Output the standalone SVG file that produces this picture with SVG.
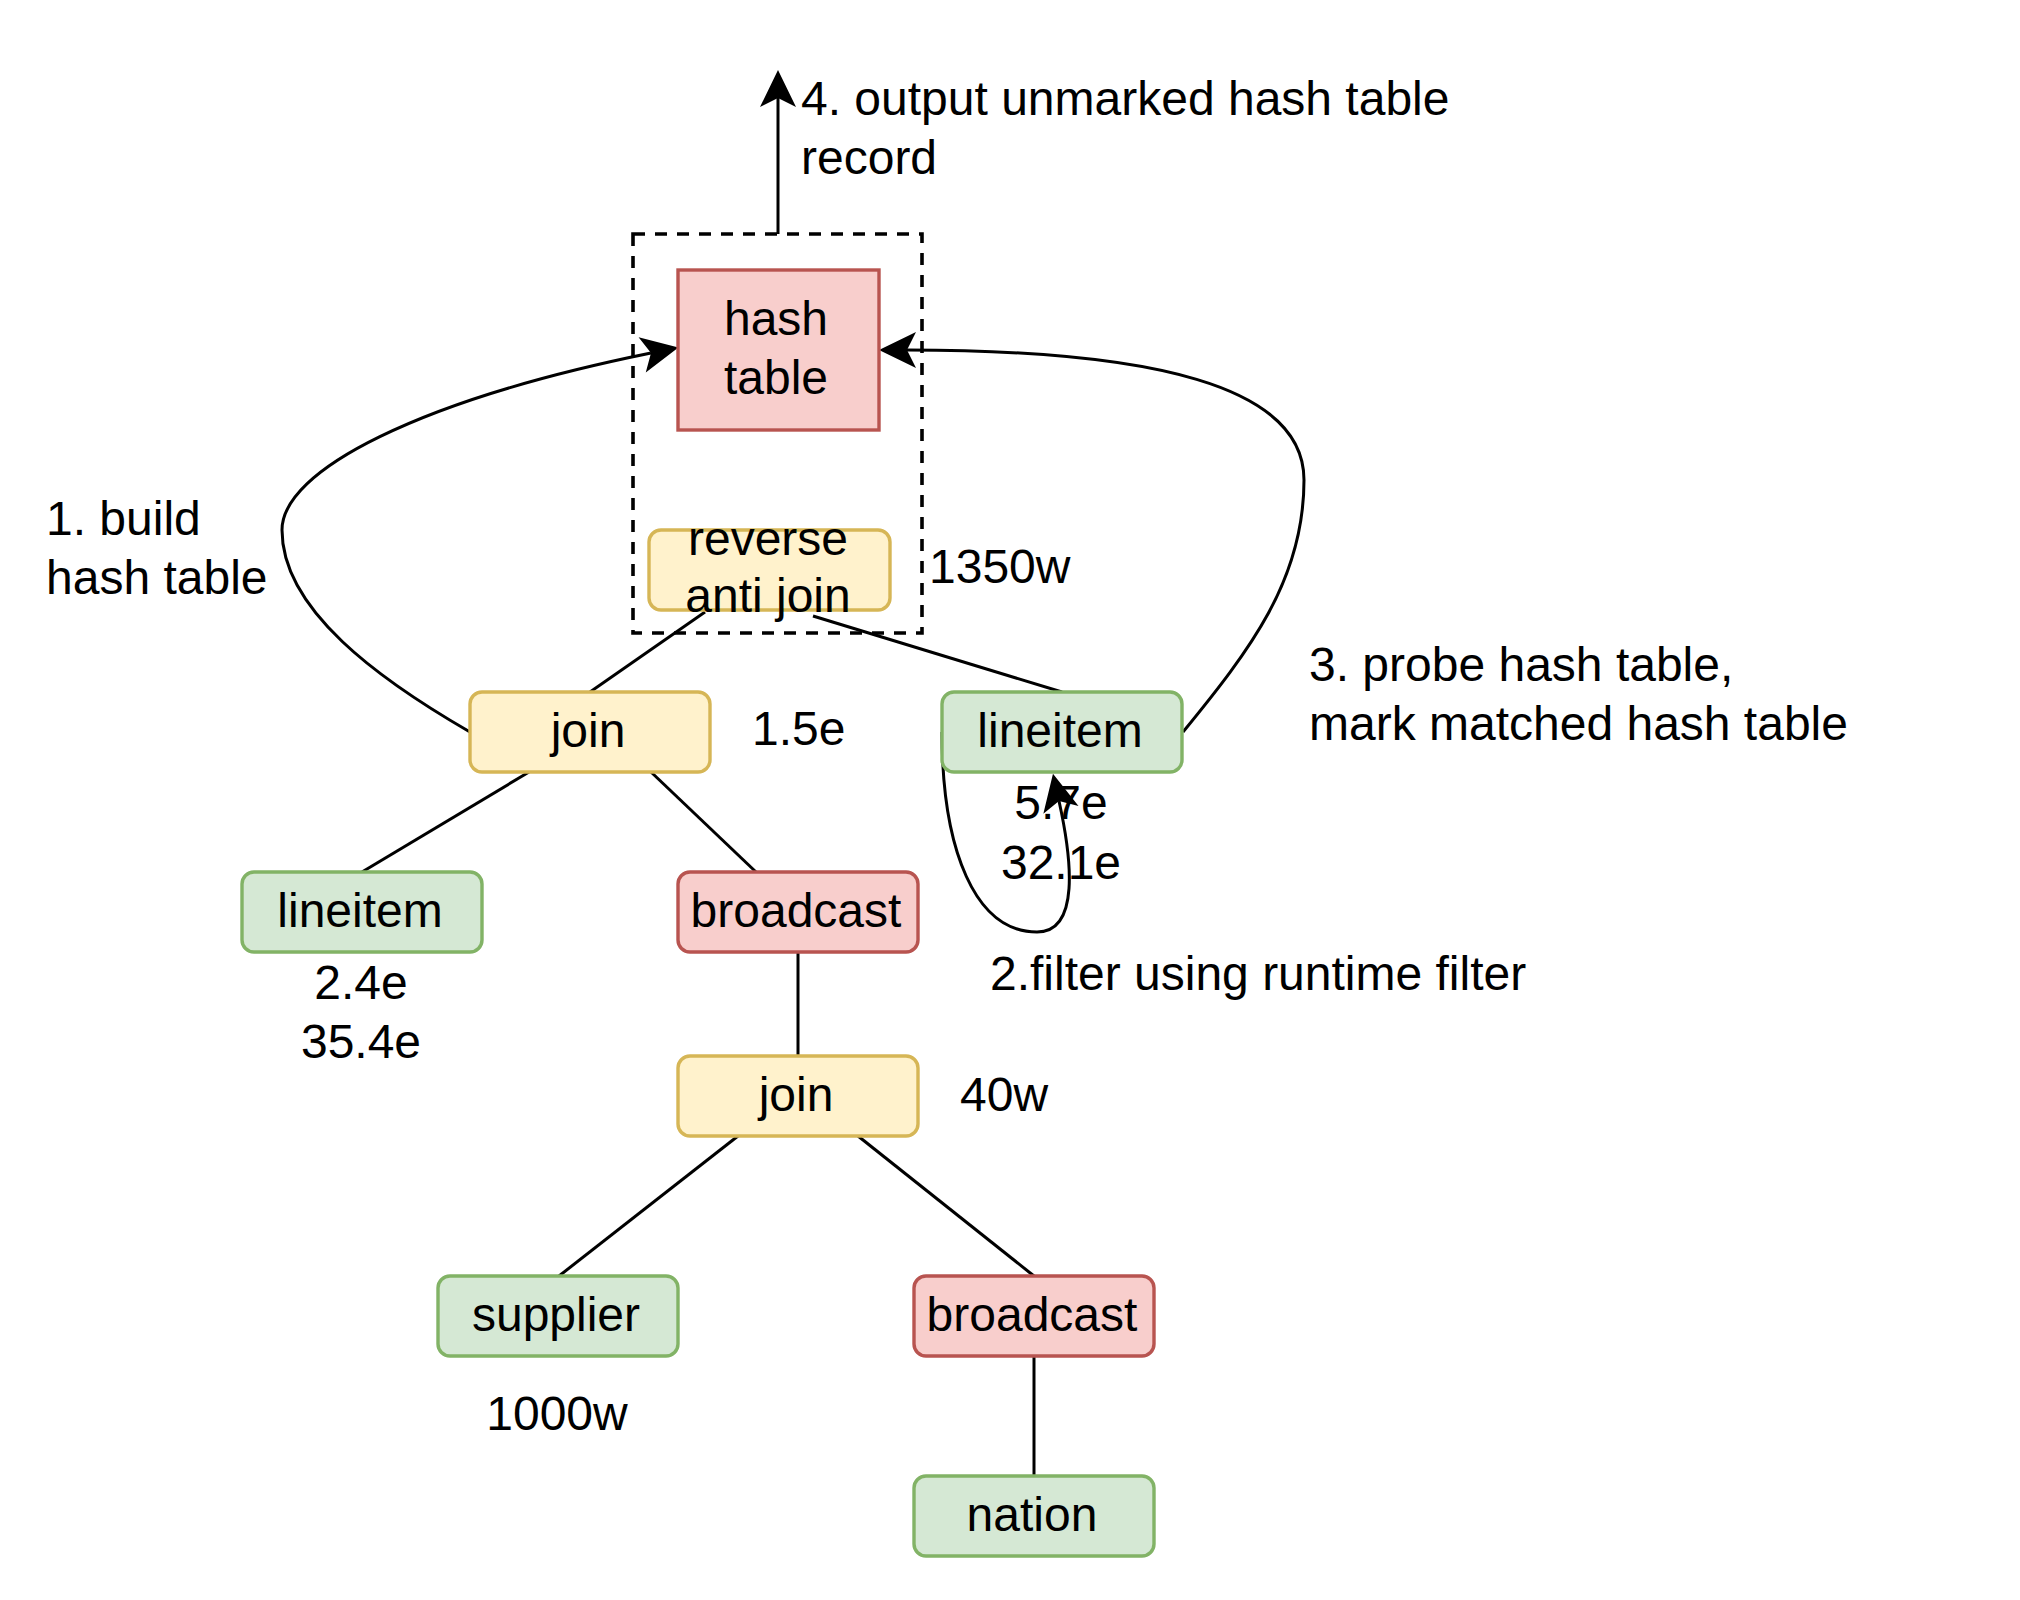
<svg xmlns="http://www.w3.org/2000/svg" width="2020" height="1600" viewBox="0 0 2020 1600">
<style>
text{font-family:"Liberation Sans",Helvetica,Arial,sans-serif;font-size:48px;fill:#000}
.c{text-anchor:middle}
.y{fill:#fff2cc;stroke:#d6b656;stroke-width:3.4}
.g{fill:#d5e8d4;stroke:#82b366;stroke-width:3.4}
.r{fill:#f8cecc;stroke:#b85450;stroke-width:3.4}
.e{fill:none;stroke:#000;stroke-width:3}
.a{marker-end:url(#arr)}
.d{fill:none;stroke:#000;stroke-width:3.6;stroke-dasharray:12 10}
</style>
<defs>
<marker id="arr" markerUnits="userSpaceOnUse" markerWidth="40" markerHeight="40" refX="9" refY="18" orient="auto" overflow="visible">
<path d="M0,0 L37,18 L0,36 L9,18 Z" fill="#000"/>
</marker>
</defs>
<rect id="group-box" class="d" x="633" y="234" width="289" height="399"/>
<g id="connectors">
<path class="e a" d="M778,234 L778,98"/>
<path class="e a" d="M470,732 C380,680 282,610 282,530 C282,470 420,400 651,353"/>
<path class="e a" d="M1183,732 C1250,650 1304,580 1304,480 C1304,385 1150,350 907,350"/>
<path class="e a" d="M942,732 C942,850 975,932 1037,932 C1080,932 1072,860 1059,801"/>
<path class="e" d="M590,692 L705,612"/>
<path class="e" d="M813,616 L1062,692"/>
<path class="e" d="M529,772 L362,872"/>
<path class="e" d="M651,772 L756,872"/>
<path class="e" d="M798,952 L798,1056"/>
<path class="e" d="M738,1136 L559,1276"/>
<path class="e" d="M858,1136 L1034,1276"/>
<path class="e" d="M1034,1356 L1034,1476"/>
</g>
<g id="hash-table"><rect class="r" x="678" y="270" width="201" height="160"/><text class="c" x="776" y="335">hash</text><text class="c" x="776" y="394">table</text></g>
<g id="reverse-anti-join"><rect class="y" x="649" y="530" width="241" height="80" rx="12"/><text class="c" x="768" y="555">reverse</text><text class="c" x="768" y="612">anti join</text></g>
<g id="join-top"><rect class="y" x="470" y="692" width="240" height="80" rx="12"/><text class="c" x="588" y="747">join</text></g>
<g id="lineitem-right"><rect class="g" x="942" y="692" width="240" height="80" rx="12"/><text class="c" x="1060" y="747">lineitem</text></g>
<g id="lineitem-left"><rect class="g" x="242" y="872" width="240" height="80" rx="12"/><text class="c" x="360" y="927">lineitem</text></g>
<g id="broadcast-mid"><rect class="r" x="678" y="872" width="240" height="80" rx="12"/><text class="c" x="796" y="927">broadcast</text></g>
<g id="join-lower"><rect class="y" x="678" y="1056" width="240" height="80" rx="12"/><text class="c" x="796" y="1111">join</text></g>
<g id="supplier"><rect class="g" x="438" y="1276" width="240" height="80" rx="12"/><text class="c" x="556" y="1331">supplier</text></g>
<g id="broadcast-lower"><rect class="r" x="914" y="1276" width="240" height="80" rx="12"/><text class="c" x="1032" y="1331">broadcast</text></g>
<g id="nation"><rect class="g" x="914" y="1476" width="240" height="80" rx="12"/><text class="c" x="1032" y="1531">nation</text></g>
<g id="labels">
<text x="801" y="115">4. output unmarked hash table</text>
<text x="801" y="174">record</text>
<text x="46" y="535">1. build</text>
<text x="46" y="594">hash table</text>
<text x="929" y="583">1350w</text>
<text x="752" y="745">1.5e</text>
<text x="1309" y="681">3. probe hash table,</text>
<text x="1309" y="740">mark matched hash table</text>
<text class="c" x="1061" y="819">5.7e</text>
<text class="c" x="1061" y="879">32.1e</text>
<text class="c" x="361" y="999">2.4e</text>
<text class="c" x="361" y="1058">35.4e</text>
<text x="990" y="990">2.filter using runtime filter</text>
<text x="960" y="1111">40w</text>
<text class="c" x="557" y="1430">1000w</text>
</g>
</svg>
